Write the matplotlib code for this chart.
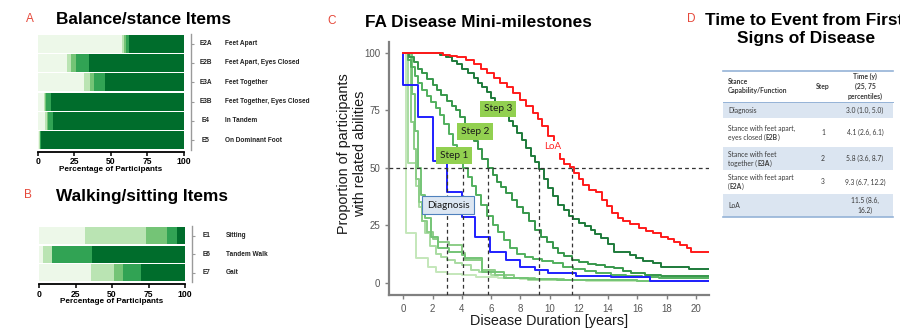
import numpy as np
import matplotlib
matplotlib.use("Agg")
import matplotlib.pyplot as plt
from matplotlib import transforms
from matplotlib.patches import Rectangle

plt.rcParams['font.family'] = ['Liberation Sans', 'DejaVu Sans']

# Score levels shared by all mFARS items (worst -> best)
level_colors = ['#edf8e9', '#bae4b3', '#74c476', '#31a354', '#006d2c']

# Panel A - balance/stance items, % of participants per level
balance_codes = ["E2A", "E2B", "E3A", "E3B", "E4", "E5"]
balance_names = ["Feet Apart", "Feet Apart, Eyes Closed", "Feet Together",
                 "Feet Together, Eyes Closed", "In Tandem", "On Dominant Foot"]
balance_pct = [
    [58.0, 1.2, 1.0, 2.3, 37.5],
    [20.0, 2.7, 3.8, 8.7, 64.8],
    [31.6, 3.9, 3.4, 6.9, 54.2],
    [4.3, 0.7, 0.7, 3.2, 91.1],
    [5.3, 1.1, 0.9, 3.0, 89.7],
    [0.9, 0.4, 0.3, 0.5, 97.9],
]

# Panel B - walking/sitting items
walk_codes = ["E1", "E6", "E7"]
walk_names = ["Sitting", "Tandem Walk", "Gait"]
walk_pct = [
    [31.2, 42.2, 14.4, 6.9, 5.3],
    [2.5, 6.7, 0.0, 27.0, 63.8],
    [35.5, 15.6, 6.2, 12.9, 29.8],
]

# Panel C - Kaplan-Meier curves (years since first symptoms, % still able)
loa_t = [0, 2.7, 3.2, 3.7, 4.3, 4.8, 5.3, 5.7, 6.2, 6.6, 7.1, 7.5, 8.0, 8.4, 8.9,
         9.2, 9.5, 9.9, 10.3, 10.7, 11.0, 11.4, 11.7, 12.0, 12.3, 12.7, 13.2, 13.6,
         13.9, 14.3, 14.7, 15.0, 15.5, 16.1, 16.6, 17.1, 17.6, 18.1, 18.5, 18.9,
         19.4, 19.7, 21.0]
loa_s = [100, 99, 98.5, 98, 97, 95, 93, 91, 89, 87, 85, 82.5, 79.5, 77, 74,
         71, 68, 64, 57, 54, 51.5, 50.5, 47.5, 45, 42.5, 40.5, 39.5, 36,
         33.5, 30.5, 28, 27, 25.5, 24, 22.5, 21.5, 20, 19, 17.5, 16.5,
         15, 13.2, 13.2]

step3_t = [0, 2.5, 2.9, 3.3, 3.7, 4.0, 4.4, 4.8, 5.1, 5.4, 5.7, 6.0, 6.3, 6.6, 6.9,
           7.2, 7.5, 7.8, 8.1, 8.4, 8.7, 9.0, 9.3, 9.6, 9.9, 10.2, 10.6, 11.0, 11.3,
           11.6, 12.0, 12.4, 12.8, 13.1, 13.5, 14.0, 14.4, 15.5, 15.9, 16.4, 17.1,
           17.6, 19.5, 21.0]
step3_s = [100, 99, 98, 96.5, 95, 93, 91, 89, 87, 85, 83, 80.5, 78, 76, 73,
           70.5, 68, 65, 62, 58.5, 55, 52.5, 49.5, 45, 41, 37.5, 34, 31.5, 29,
           27.5, 26, 24.5, 23, 21, 19.5, 17, 13.5, 12, 10.6, 9.5, 8.7,
           7.0, 5.8, 5.8]

step2_t = [0, 0.4, 0.7, 1.0, 1.3, 1.6, 2.0, 2.3, 2.6, 3.0, 3.3, 3.6, 3.9, 4.2, 4.5,
           4.8, 5.1, 5.4, 5.8, 6.1, 6.4, 6.7, 7.0, 7.4, 7.8, 8.2, 8.6, 9.0, 9.4,
           9.8, 10.2, 10.6, 11.0, 11.5, 12.0, 12.6, 13.2, 13.8, 14.4, 15.0, 15.6,
           16.5, 17.6, 21.0]
step2_s = [100, 98, 96, 93, 91, 88.5, 86, 84, 81.5, 79, 77, 75, 72, 68.5, 65,
           61.5, 58, 54, 50, 47, 44, 41.5, 39, 36, 33, 30.5, 27, 23, 20,
           17.5, 15, 13, 11.5, 10, 9, 8.3, 7.7, 7, 6.2, 5, 4.2,
           3.5, 2.8, 2.8]

step1_t = [0, 0.3, 0.5, 0.8, 1.0, 1.3, 1.6, 1.9, 2.2, 2.5, 2.8, 3.1, 3.4, 3.7, 4.1,
           4.4, 4.7, 5.0, 5.3, 5.7, 6.1, 6.5, 6.9, 7.3, 7.8, 8.3, 8.9, 9.5, 10.2,
           10.9, 11.6, 12.4, 13.2, 14.2, 15.2, 16.3, 17.5, 21.0]
step1_s = [100, 97, 94, 90, 87, 84, 81, 78.5, 76, 73, 69, 64.5, 60, 55, 50,
           46, 42, 38, 34, 29, 25, 22, 18.5, 15, 12.5, 11, 10.2, 9.6, 8.5,
           7, 5.8, 5, 4.2, 3.5, 3, 2.5, 2.2, 2.2]

diag_t = [0, 0, 1.0, 2.0, 3.0, 4.0, 4.9, 5.9, 7.0, 8.0, 9.0, 9.9, 11.8, 14.2, 16.9, 21.0]
diag_s = [100, 86, 72, 53, 39.5, 28.5, 20, 13.5, 10, 7, 5.5, 4.1, 2.9, 2.3, 0.7, 0.7]

# remaining (early) items
early_t = [
    [0, 0.2, 0.9, 1.7, 2.2, 3.0, 4.0, 5.0, 6.5, 8.0, 10.0, 12.5, 16.2],
    [0, 0.35, 0.9, 1.1, 1.3, 1.5, 1.8, 2.2, 2.6, 3.0, 3.5, 4.0, 4.6, 5.2, 6.0, 7.0, 8.5, 10.85],
    [0, 0.5, 0.7, 0.9, 1.1, 1.3, 1.6, 2.0, 2.4, 3.1, 4.0, 4.2, 5.4, 6.3, 7.6, 9.0, 11.0, 13.5, 16.0, 21.0],
    [0, 0.6, 0.8, 1.0, 1.2, 1.5, 1.9, 2.4, 3.1, 4.0, 4.2, 5.4, 6.9, 8.5, 10.5, 13.0, 16.0, 19.5],
]
early_s = [
    [100, 21.5, 10.6, 7.0, 4.8, 4.0, 3.3, 2.6, 2.0, 1.5, 1.0, 0.6, 0.6],
    [100, 52, 42, 33, 27, 21.5, 16, 12.5, 11, 10, 8.5, 7.5, 5.5, 4.5, 3.3, 2.2, 1.2, 1.2],
    [100, 70, 58, 45, 35, 27, 22, 19, 17.8, 16.4, 12.8, 9.9, 5.5, 3.3, 1.9, 1.5, 1.2, 1.0, 0.8, 0.8],
    [100, 82, 66, 50, 38, 28, 20, 15, 13.5, 12, 10.6, 4.8, 1.9, 1.5, 1.2, 1.0, 0.8, 0.8],
]
early_colors = ['#c4e7ba', '#a9dca2', '#8ccd87', '#74c476']

# Panel D - time to event table
event_label = ["Diagnosis", "Stance with feet apart,", "Stance with feet",
               "Stance with feet apart", "LoA"]
event_label2 = ["", "eyes closed", "together", "", ""]
event_code = ["", "E2B", "E3A", "E2A", ""]
step_no = ["", "1", "2", "3", ""]
median_t = [3.0, 4.1, 5.8, 9.3, 11.5]
q25_t = [1.0, 2.6, 3.6, 6.7, 8.6]
q75_t = [5.0, 6.1, 8.7, 12.2, 16.2]

RED = '#e5483a'
W, H = 900, 329
fig = plt.figure(figsize=(9, 3.29), dpi=100)


def axes_px(left, top, right, bottom):
    return fig.add_axes([left / W, 1 - bottom / H, (right - left) / W, (bottom - top) / H])


def stacked_items(ax, codes, names, pct, pad, xlabel_pad):
    pct = np.asarray(pct, dtype=float)
    y = np.arange(len(codes))
    left = np.zeros(len(codes))
    for j, col in enumerate(level_colors):
        ax.barh(y, pct[:, j], left=left, height=0.92, color=col, linewidth=0)
        left += pct[:, j]
    ax.set_xlim(0, 100)
    ax.set_ylim(len(codes) - 0.5 + pad, -0.5)
    for side in ('top', 'left'):
        ax.spines[side].set_visible(False)
    ax.spines['bottom'].set_linewidth(1.3)
    ax.spines['right'].set_position(('outward', 5))
    ax.spines['right'].set_bounds(-0.5, len(codes) - 0.5)
    ax.spines['right'].set_color('#9a9a9a')
    ax.spines['right'].set_linewidth(1.0)
    ax.set_xticks([0, 25, 50, 75, 100])
    ax.set_xticklabels(['0', '25', '50', '75', '100'], fontsize=6.2, fontweight='bold')
    ax.tick_params(axis='x', length=3, width=1.1, pad=1)
    ax.yaxis.tick_right()
    ax.set_yticks(y)
    ax.set_yticklabels([])
    ax.tick_params(axis='y', length=2, width=0.8, color='#9a9a9a')
    ax.set_xlabel('Percentage of Participants', fontsize=5.9, fontweight='bold',
                  labelpad=xlabel_pad)
    code_tr = transforms.offset_copy(ax.get_yaxis_transform(), fig=fig, x=15.8, units='points')
    name_tr = transforms.offset_copy(ax.get_yaxis_transform(), fig=fig, x=29.5, units='points')
    for yi, c, n in zip(y, codes, names):
        ax.text(1.0, yi, c, transform=code_tr, ha='center', va='center',
                fontsize=4.7, fontweight='bold', color='#222222')
        ax.text(1.0, yi, n, transform=name_tr, ha='left', va='center',
                fontsize=4.7, fontweight='bold', color='#222222')


# ---- A / B: stacked bars
ax_a = axes_px(37.7, 34, 183.7, 151.7)
stacked_items(ax_a, balance_codes, balance_names, balance_pct, 0.09, -0.5)
ax_b = axes_px(39, 226.5, 185, 284.3)
stacked_items(ax_b, walk_codes, walk_names, walk_pct, 0.12, -0.3)

# ---- C: mini-milestone survival curves
ax_c = axes_px(389, 41.7, 709, 294.7)
for t, s, col in zip(early_t, early_s, early_colors):
    ax_c.plot(t, s, drawstyle='steps-post', color=col, lw=1.4, zorder=2)
ax_c.plot(step1_t, step1_s, drawstyle='steps-post', color='#52b05e', lw=1.4, zorder=2)
ax_c.plot(step2_t, step2_s, drawstyle='steps-post', color='#36974b', lw=1.4, zorder=2)
ax_c.plot(step3_t, step3_s, drawstyle='steps-post', color='#1d7a3a', lw=1.4, zorder=2)
ax_c.plot(diag_t, diag_s, drawstyle='steps-post', color='#1f1fff', lw=1.4, zorder=2.5)
ax_c.plot(loa_t, loa_s, drawstyle='steps-post', color='#ff1a1a', lw=1.4, zorder=2.5)

ax_c.set_xlim(-0.98, 20.9)
ax_c.set_ylim(-5.2, 104.8)
ax_c.axhline(50, color='#333333', lw=0.9, ls=(0, (3, 2.5)), zorder=3)
ax_c.vlines(median_t, -5.2, 50, color='#333333', lw=0.9, linestyles=[(0, (3, 2.5))], zorder=3)

for side in ('top', 'right'):
    ax_c.spines[side].set_visible(False)
for side in ('left', 'bottom'):
    ax_c.spines[side].set_color('#808080')
    ax_c.spines[side].set_linewidth(1.6)
ax_c.set_xticks(range(0, 21, 2))
ax_c.set_yticks([0, 25, 50, 75, 100])
ax_c.tick_params(colors='#808080', labelcolor='#555555', length=3, width=1, labelsize=7)
ax_c.set_xlabel('Disease Duration [years]', fontsize=10.4, color='#1a1a1a', labelpad=0)
ax_c.set_ylabel('Proportion of participants\nwith related abilities', fontsize=10.4,
                color='#1a1a1a', va='center', linespacing=1.15)
ax_c.yaxis.set_label_coords(-0.115, 0.558)

box_kw = dict(ha='center', va='center', fontsize=7.2, family=['Lato', 'DejaVu Sans'],
              color='#1a1a1a', zorder=6)
green_box = dict(boxstyle='square,pad=0.38', fc='#92d050', ec='none')
ax_c.text(6.5, 75.6, 'Step 3', bbox=green_box, **box_kw)
ax_c.text(4.9, 65.8, 'Step 2', bbox=green_box, **box_kw)
ax_c.text(3.45, 55.2, 'Step 1', bbox=green_box, **box_kw)
ax_c.text(3.07, 33.6, 'Diagnosis',
          bbox=dict(boxstyle='square,pad=0.45', fc='#dce6f2', ec='#4f81bd', lw=0.8), **box_kw)
ax_c.text(10.2, 59.1, 'LoA', ha='center', va='center', fontsize=7, color='#ff2020',
          family=['Lato', 'DejaVu Sans'], zorder=6,
          bbox=dict(boxstyle='square,pad=0.15', fc='white', ec='none'))

# ---- titles
title_kw = dict(fontsize=12.4, fontweight='bold', va='baseline', color='black')
letter_kw = dict(fontsize=8.5, va='baseline', ha='center', color=RED)
fig.text(30 / W, 1 - 21.5 / H, 'A', **letter_kw)
fig.text(56 / W, 1 - 24 / H, 'Balance/stance Items', **title_kw)
fig.text(28 / W, 1 - 198 / H, 'B', **letter_kw)
fig.text(56 / W, 1 - 200.5 / H, 'Walking/sitting Items', **title_kw)
fig.text(332 / W, 1 - 24 / H, 'C', **letter_kw)
fig.text(365 / W, 1 - 26.7 / H, 'FA Disease Mini-milestones', **title_kw)
fig.text(691 / W, 1 - 22.5 / H, 'D', **letter_kw)
fig.text(804 / W, 1 - 25 / H, 'Time to Event from First', ha='center', **title_kw)
fig.text(806 / W, 1 - 43.3 / H, 'Signs of Disease', ha='center', **title_kw)

# ---- D: table drawn in pixel space
ov = fig.add_axes([0, 0, 1, 1])
ov.set_xlim(0, W)
ov.set_ylim(H, 0)
ov.axis('off')

tab_l, tab_r = 723, 893
row_edges = [101.7, 118.3, 147.3, 170.0, 194.0, 216.7]
line_col = '#95b3d7'
cell_kw = dict(fontsize=4.9, family=['Lato', 'DejaVu Sans'], color='#3a3a3a')

for i in range(0, len(event_label), 2):
    ov.add_patch(Rectangle((tab_l, row_edges[i]), tab_r - tab_l,
                           row_edges[i + 1] - row_edges[i], fc='#dbe5f1', ec='none'))
ov.plot([tab_l, tab_r], [70.7, 70.7], color=line_col, lw=1.2)
ov.plot([tab_l, tab_r], [row_edges[0], row_edges[0]], color=line_col, lw=0.7)
ov.plot([tab_l, tab_r], [row_edges[-1], row_edges[-1]], color=line_col, lw=1.2)

ov.text(728, 86.2, 'Stance\nCapability/Function', ha='left', va='center',
        fontweight='bold', linespacing=1.4, **cell_kw)
ov.text(823, 87, 'Step', ha='center', va='center', fontweight='bold', **cell_kw)
ov.text(865, 86.5, 'Time (y)\n(25, 75\npercentiles)', ha='center', va='center',
        fontweight='bold', linespacing=1.4, multialignment='center', **cell_kw)


def run_text(ax, x, y, parts):
    t = ax.text(x, y, parts[0][0], fontweight=parts[0][1], ha='left', va='center', **cell_kw)
    for s, w in parts[1:]:
        t = ax.annotate(s, xy=(1, 0), xycoords=t, ha='left', va='bottom',
                        fontweight=w, **cell_kw)
    return t


for i in range(len(event_label)):
    yc = (row_edges[i] + row_edges[i + 1]) / 2
    if event_code[i]:
        pre = event_label2[i] + ' (' if event_label2[i] else '('
        ov.text(728, yc - 4.4, event_label[i], ha='left', va='center', **cell_kw)
        run_text(ov, 728, yc + 4.4, [(pre, 'normal'), (event_code[i], 'bold'), (')', 'normal')])
    else:
        ov.text(728, yc, event_label[i], ha='left', va='center', **cell_kw)
    if step_no[i]:
        ov.text(823, yc, step_no[i], ha='center', va='center', **cell_kw)
    label = f"{median_t[i]:.1f} ({q25_t[i]:.1f}, {q75_t[i]:.1f})"
    if len(label) > 15:
        label = label.replace(', ', ',\n')
    ov.text(865, yc, label, ha='center', va='center', multialignment='center',
            linespacing=1.4, **cell_kw)

fig.savefig('out.png', dpi=100)
